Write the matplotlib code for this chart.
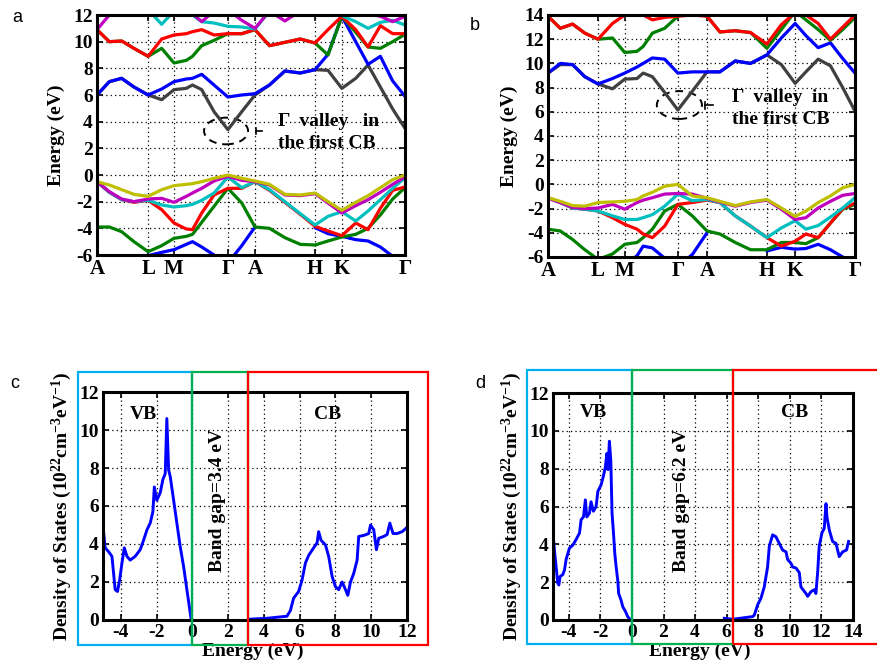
import numpy as np
import matplotlib
matplotlib.use('Agg')
import matplotlib.pyplot as plt
from matplotlib.patches import Ellipse, Rectangle
from matplotlib.transforms import blended_transform_factory

plt.rcParams['font.family'] = ['Liberation Serif', 'DejaVu Serif']
plt.rcParams['font.weight'] = 'bold'
plt.rcParams['axes.labelweight'] = 'bold'
plt.rcParams['mathtext.fontset'] = 'custom'
plt.rcParams['mathtext.rm'] = 'Liberation Serif:bold'
plt.rcParams['mathtext.it'] = 'Liberation Serif:italic:bold'
plt.rcParams['mathtext.bf'] = 'Liberation Serif:bold'
plt.rcParams['axes.unicode_minus'] = False

nan = np.nan

# ---------------- panel a: band structure (small gap) ----------------
a_sym_pos = [0.0, 0.166, 0.25, 0.425, 0.513, 0.708, 0.795, 1.0]
sym_labels = ['A', 'L', 'M', 'Γ', 'A', 'H', 'K', 'Γ']
a_k = [0, 0.04, 0.08, 0.12, 0.166, 0.21, 0.25, 0.29, 0.31, 0.34, 0.38, 0.425, 0.47,
       0.513, 0.56, 0.61, 0.66, 0.708, 0.75, 0.795, 0.84, 0.88, 0.92, 0.96, 1.0]
a_vb_blue = [-7.0, -7.0, -7.0, -6.5, -6.05, -5.8, -5.6, -5.2, -5.0, -5.4, -6.0, -6.6, -5.3,
             -3.9, nan, nan, nan, -3.95, -4.4, -4.6, -4.85, -4.95, -5.4, -6.1, -6.6]
a_vb_green = [-3.9, -3.9, -4.25, -5.0, -5.75, -5.3, -4.75, -4.6, -4.45, -3.55, -2.35, -1.0, -2.1,
              -3.9, -4.0, -4.7, -5.2, -5.25, -4.95, -4.65, -4.45, -4.0, -3.0, -1.8, -0.95]
a_vb_red = [-0.5, -1.3, -1.85, -2.05, -1.9, -2.6, -3.6, -4.05, -4.1, -2.85, -1.5, -1.0, -1.0,
            -0.5, -1.15, -2.05, -2.95, -3.85, -4.2, -4.55, -3.6, -4.1, -2.5, -1.15, -0.9]
a_vb_cyan = [-0.5, -1.3, -1.85, -2.0, -1.9, -2.25, -2.4, -2.3, -2.2, -1.9, -1.35, -0.15, -0.95,
             -0.5, -1.1, -2.0, -2.9, -3.75, -3.1, -2.75, -3.45, -2.7, -1.85, -1.0, -0.2]
a_vb_magenta = [-0.5, -1.25, -1.8, -2.0, -1.8, -1.75, -2.05, -1.6, -1.35, -1.0, -0.45, -0.1, -0.4,
                -0.5, -0.75, -1.5, -1.55, -1.4, -2.1, -2.85, -2.3, -1.85, -1.3, -0.7, -0.15]
a_vb_yellow = [-0.5, -0.75, -1.1, -1.45, -1.6, -1.1, -0.8, -0.7, -0.65, -0.5, -0.25, 0.0, -0.25,
               -0.45, -0.7, -1.45, -1.5, -1.35, -2.0, -2.65, -2.05, -1.55, -0.95, -0.35, 0.0]
a_cb_gray = [6.0, 7.0, 7.25, 6.6, 6.0, 5.65, 6.4, 6.5, 6.75, 6.4, 4.75, 3.4, 4.75,
             6.0, 6.75, 7.8, 7.65, 7.9, 7.85, 6.5, 7.25, 8.25, 6.6, 4.95, 3.5]
a_cb_blue = [6.0, 7.0, 7.25, 6.6, 6.0, 6.45, 7.0, 7.2, 7.25, 7.55, 6.75, 5.85, 6.0,
             6.1, 6.75, 7.8, 7.65, 7.9, 9.05, 11.9, 10.0, 8.3, 8.9, 7.05, 5.9]
a_cb_green = [10.9, 10.0, 10.05, 9.5, 8.9, 9.5, 8.4, 8.6, 8.9, 9.7, 10.1, 10.6, 10.6,
              10.9, 9.7, 9.95, 10.2, 9.9, 9.0, 11.9, 10.7, 9.6, 9.5, 10.0, 10.55]
a_cb_red = [10.9, 10.0, 10.05, 9.5, 8.9, 10.2, 10.5, 10.6, 10.75, 10.9, 10.5, 10.6, 10.6,
            10.9, 9.7, 9.95, 10.2, 9.9, 10.9, 11.9, 10.9, 9.6, 11.2, 10.6, 10.6]
a_cb_cyan = [12.5, 12.8, 12.8, 12.6, 12.4, 11.3, 12.3, 12.6, 12.0, 11.5, 11.4, 11.15, 11.1,
             10.95, 12.3, 12.6, 12.6, 12.6, 12.4, 11.95, 11.5, 11.0, 11.45, 11.6, 11.25]
a_cb_magenta = [10.9, 12.0, 12.8, 13.0, 13.0, 13.0, 12.6, 12.2, 12.1, 11.5, 12.3, 12.4, 11.6,
                11.0, 12.3, 11.55, 12.3, 12.8, 12.8, 12.5, 12.4, 12.1, 11.9, 11.5, 11.9]

# ---------------- panel b: band structure (large gap) ----------------
b_sym_pos = [0.0, 0.163, 0.25, 0.423, 0.518, 0.713, 0.805, 1.0]
b_k = [0, 0.04, 0.08, 0.12, 0.163, 0.21, 0.25, 0.29, 0.31, 0.34, 0.38, 0.423, 0.47,
       0.518, 0.56, 0.61, 0.66, 0.713, 0.76, 0.805, 0.84, 0.88, 0.92, 0.96, 1.0]
b_vb_blue = [-7, -7, -7, -7, -7, -7, -6.6, -5.9, -5.1, -5.25, -6.1, -6.8, -5.8,
             -4.0, nan, nan, nan, -5.5, -5.2, -5.35, -5.3, -4.95, -5.4, -6.0, -6.5]
b_vb_green = [-3.7, -3.85, -4.55, -5.4, -6.2, -5.75, -4.95, -4.8, -4.4, -3.7, -2.2, -1.65, -2.6,
              -3.85, -4.1, -4.8, -5.4, -5.4, -4.8, -4.8, -4.9, -4.4, -3.2, -2.05, -1.65]
b_vb_red = [-1.1, -1.5, -1.95, -2.05, -2.2, -2.75, -3.3, -3.7, -4.1, -4.4, -3.45, -1.65, -1.5,
            -1.3, -1.5, -2.6, -3.45, -4.4, -5.1, -4.7, -4.1, -4.4, -3.2, -2.0, -1.55]
b_vb_cyan = [-1.1, -1.5, -1.95, -2.05, -2.2, -2.6, -2.9, -2.9, -2.75, -2.5, -1.8, -0.8, -1.35,
             -1.25, -1.5, -2.6, -3.45, -4.4, -3.6, -3.0, -3.7, -3.4, -2.7, -1.95, -1.1]
b_vb_magenta = [-1.15, -1.5, -1.9, -2.0, -1.95, -1.65, -2.05, -1.5, -1.3, -1.1, -0.8, -0.75, -0.8,
                -1.15, -1.45, -1.8, -1.5, -1.3, -2.05, -2.9, -2.75, -1.95, -1.4, -0.9, -0.75]
b_vb_yellow = [-1.1, -1.4, -1.75, -1.8, -1.5, -1.45, -1.4, -1.25, -0.95, -0.65, -0.15, 0.0, -0.95,
               -1.1, -1.4, -1.75, -1.45, -1.25, -1.95, -2.65, -2.2, -1.5, -0.95, -0.28, 0.0]
b_cb_gray = [9.2, 9.9, 9.9, 8.9, 8.3, 7.9, 8.7, 8.75, 9.2, 8.9, 7.6, 6.15, 7.7,
             9.3, 9.3, 10.2, 10.0, 10.7, 9.9, 8.35, 9.3, 10.35, 9.8, 8.0, 6.05]
b_cb_blue = [9.2, 10.0, 9.9, 8.9, 8.3, 8.75, 9.2, 9.7, 10.0, 10.45, 10.35, 9.2, 9.3,
             9.3, 9.3, 10.2, 10.0, 10.7, 12.1, 13.3, 12.3, 11.3, 11.7, 10.4, 9.2]
b_cb_green = [13.9, 12.9, 13.25, 12.5, 12.0, 12.1, 10.9, 11.0, 11.4, 12.5, 12.9, 13.9, 14.2,
              13.9, 12.6, 12.7, 12.55, 11.25, 12.8, 14.3, 13.6, 12.8, 11.9, 12.8, 13.8]
b_cb_red = [13.9, 12.9, 13.25, 12.5, 12.0, 13.3, 14.0, 14.0, 14.0, 13.6, 13.8, 13.9, 14.0,
            13.9, 12.6, 12.7, 12.55, 11.6, 13.2, 14.2, 14.0, 13.3, 12.0, 13.0, 14.0]

# ---------------- panel c: DOS (gap 3.4 eV) ----------------
c_vb_e = [-4.97, -4.88, -4.69, -4.50, -4.32, -4.19, -4.07, -3.94, -3.81, -3.66, -3.48, -3.20,
          -2.92, -2.73, -2.54, -2.36, -2.21, -2.13, -1.99, -1.80, -1.65, -1.52, -1.43, -1.33,
          -1.24, -1.05, -0.87, -0.68, -0.49, -0.31, -0.08, 0.0]
c_vb_dos = [4.65, 3.8, 3.6, 3.35, 1.6, 1.5, 2.1, 3.0, 3.8, 3.35, 3.15, 3.35, 3.7, 4.2, 4.75, 5.1,
            5.7, 7.0, 6.3, 6.7, 7.4, 7.7, 10.6, 7.9, 7.55, 6.3, 5.1, 3.85, 2.8, 1.6, 0.1, 0.0]
c_cb_e = [3.15, 4.17, 5.29, 5.48, 5.66, 5.94, 6.13, 6.32, 6.50, 6.78, 6.97, 7.06, 7.19, 7.44,
          7.62, 7.81, 8.0, 8.18, 8.37, 8.56, 8.69, 8.84, 9.02, 9.21, 9.30, 9.58, 9.86, 9.96,
          10.14, 10.29, 10.42, 10.70, 10.89, 11.04, 11.22, 11.45, 11.73, 11.97]
c_cb_dos = [0.04, 0.09, 0.2, 0.5, 1.15, 1.5, 2.1, 3.0, 3.4, 3.8, 4.05, 4.65, 4.2, 3.95, 3.35,
            2.3, 1.75, 1.6, 2.0, 1.6, 1.3, 2.0, 2.45, 3.15, 4.4, 4.45, 4.55, 5.0, 4.75, 3.7,
            4.3, 4.4, 4.5, 5.1, 4.55, 4.55, 4.65, 4.85]

# ---------------- panel d: DOS (gap 6.2 eV) ----------------
d_vb_e = [-5.01, -4.91, -4.80, -4.70, -4.63, -4.55, -4.38, -4.27, -4.17, -3.96, -3.75, -3.54,
          -3.32, -3.22, -3.07, -2.95, -2.86, -2.69, -2.59, -2.44, -2.27, -2.16, -1.95, -1.81,
          -1.68, -1.59, -1.51, -1.43, -1.34, -1.26, -1.17, -1.09, -1.0, -0.90, -0.84, -0.69,
          -0.58, -0.41, -0.27, -0.12]
d_vb_dos = [4.67, 3.7, 2.8, 1.95, 1.85, 2.3, 2.4, 2.65, 3.2, 3.8, 3.95, 4.25, 4.6, 5.3, 5.45,
            6.35, 5.45, 5.65, 6.25, 5.75, 6.0, 6.8, 7.15, 7.6, 8.1, 8.8, 7.95, 9.45, 8.45, 5.65,
            4.6, 3.55, 2.8, 2.1, 1.4, 1.05, 0.7, 0.45, 0.18, 0.03]
d_cb_e = [5.85, 6.38, 7.65, 7.75, 7.96, 8.17, 8.38, 8.59, 8.70, 8.91, 9.12, 9.33, 9.54, 9.76,
          9.86, 10.07, 10.18, 10.39, 10.60, 10.70, 11.02, 11.13, 11.34, 11.55, 11.65, 11.76,
          11.86, 12.03, 12.18, 12.29, 12.35, 12.50, 12.71, 12.92, 13.13, 13.34, 13.59, 13.72]
d_cb_dos = [0.09, 0.04, 0.18, 0.26, 0.8, 1.15, 1.75, 2.8, 3.9, 4.5, 4.4, 4.05, 3.7, 3.6, 3.2,
            3.0, 2.8, 2.75, 2.5, 1.75, 1.4, 1.25, 1.5, 1.6, 1.4, 2.5, 3.9, 4.6, 4.85, 6.15,
            5.45, 4.75, 4.15, 4.05, 3.35, 3.6, 3.7, 4.15]

band_gap_labels = ['Band gap=3.4 eV', 'Band gap=6.2 eV']

# MATLAB default colour order
C_B, C_G, C_R = '#0000ff', '#008000', '#ff0000'
C_C, C_M, C_Y, C_K = '#00bfbf', '#bf00bf', '#bfbf00', '#404040'

W, H = 878, 669
fig = plt.figure(figsize=(W / 100, H / 100), dpi=100)


def px_axes(x0, y0, x1, y1):
    return fig.add_axes([x0 / W, 1 - y1 / H, (x1 - x0) / W, (y1 - y0) / H])


def style(ax, xsize=14):
    for s in ax.spines.values():
        s.set_linewidth(2.2)
    ax.tick_params(direction='in', length=4, width=1.2, top=True, right=True,
                   labelsize=14, pad=3)
    ax.tick_params(axis='x', labelsize=xsize)
    for lbl in ax.get_xticklabels() + ax.get_yticklabels():
        lbl.set_fontweight('bold')
    ax.grid(True, color='k', linestyle=(0, (1, 2.5)), linewidth=0.9)


def band_panel(ax, k, sym_pos, vb, cb, ylim):
    for E, c in zip(vb, [C_B, C_G, C_R, C_C, C_M, C_Y]):
        ax.plot(k, E, color=c, lw=2.3, solid_capstyle='round', solid_joinstyle='round')
    for E, c in zip(cb, [C_K, C_B, C_G, C_R, C_C, C_M]):
        ax.plot(k, E, color=c, lw=2.3, solid_capstyle='round', solid_joinstyle='round')
    ax.set_xlim(0, 1)
    ax.set_ylim(*ylim)
    ax.set_yticks(np.arange(ylim[0], ylim[1] + 1, 2))
    ax.set_xticks(sym_pos)
    ax.set_xticklabels(sym_labels)
    style(ax, xsize=15)
    ax.set_ylabel('Energy (eV)', fontsize=14, fontweight='bold')


# panel a
axa = px_axes(97, 15, 405, 255)
band_panel(axa, a_k, a_sym_pos,
           [a_vb_blue, a_vb_green, a_vb_red, a_vb_cyan, a_vb_magenta, a_vb_yellow],
           [a_cb_gray, a_cb_blue, a_cb_green, a_cb_red, a_cb_cyan, a_cb_magenta], (-6, 12))
axa.yaxis.set_label_coords(-0.105, 0.5)
axa.add_patch(Ellipse((0.419, 3.3), 0.143, 2.0, fill=False, ec='k', lw=1.4,
                      linestyle=(0, (4, 3))))
axa.plot([0.516, 0.516], [3.05, 3.55], color='k', lw=1.2)
axa.plot([0.516, 0.535], [3.3, 3.3], color='k', lw=1.2)
axa.text(0.588, 3.98, 'Γ  valley   in', fontsize=14, fontweight='bold', ha='left', va='center')
axa.text(0.588, 2.33, 'the first CB', fontsize=14, fontweight='bold', ha='left', va='center')

# panel b
axb = px_axes(548, 15, 855, 257)
band_panel(axb, b_k, b_sym_pos,
           [b_vb_blue, b_vb_green, b_vb_red, b_vb_cyan, b_vb_magenta, b_vb_yellow],
           [b_cb_gray, b_cb_blue, b_cb_green, b_cb_red], (-6, 14))
axb.yaxis.set_label_coords(-0.099, 0.5)
axb.add_patch(Ellipse((0.428, 6.56), 0.147, 2.3, fill=False, ec='k', lw=1.4,
                      linestyle=(0, (4, 3))))
axb.plot([0.511, 0.511], [6.25, 6.85], color='k', lw=1.2)
axb.plot([0.511, 0.537], [6.56, 6.56], color='k', lw=1.2)
axb.text(0.599, 7.22, 'Γ  valley  in', fontsize=14, fontweight='bold', ha='left', va='center')
axb.text(0.599, 5.4, 'the first CB', fontsize=14, fontweight='bold', ha='left', va='center')


def dos_panel(ax, vb_e, vb_d, cb_e, cb_d, xlim, xticks):
    ax.plot(vb_e, vb_d, color=C_B, lw=2.1)
    ax.plot(cb_e, cb_d, color=C_B, lw=2.1)
    ax.set_xlim(*xlim)
    ax.set_ylim(0, 12)
    ax.set_xticks(xticks)
    ax.set_yticks(np.arange(0, 13, 2))
    style(ax)
    ax.set_ylabel('Density of States (10$^{22}$cm$^{-3}$eV$^{-1}$)', fontsize=14,
                  fontweight='bold')
    ax.set_xlabel('Energy (eV)', fontsize=14, fontweight='bold')


def boxes(ax, edges, y0, y1):
    tr = blended_transform_factory(ax.transData, fig.transFigure)
    for (e0, e1), col in zip(edges, ['#00b0f0', '#00b050', '#ff0000']):
        fig.patches.append(Rectangle((e0, 1 - y1 / H), e1 - e0, (y1 - y0) / H, fill=False,
                                     ec=col, lw=1.6, transform=tr, clip_on=False))


# panel c
axc = px_axes(103, 392, 407, 620)
dos_panel(axc, c_vb_e, c_vb_dos, c_cb_e, c_cb_dos, (-5, 12), np.arange(-4, 13, 2))
axc.yaxis.set_label_coords(-0.095, 0.5)
axc.xaxis.set_label_coords(0.493, -0.10)
axc.text(-2.76, 10.8, 'VB', fontsize=14, fontweight='bold', ha='center', va='center')
axc.text(7.58, 10.8, 'CB', fontsize=14, fontweight='bold', ha='center', va='center')
axc.text(1.38, 6.3, band_gap_labels[0], fontsize=14, fontweight='bold', ha='center',
         va='center', rotation=90)
boxes(axc, [(-6.4, 0.0), (0.0, 3.12), (3.12, 13.2)], 372, 645)

# panel d
axd = px_axes(553, 393, 853, 620)
dos_panel(axd, d_vb_e, d_vb_dos, d_cb_e, d_cb_dos, (-5, 14), np.arange(-4, 15, 2))
axd.yaxis.set_label_coords(-0.096, 0.5)
axd.xaxis.set_label_coords(0.49, -0.10)
axd.text(-2.47, 10.95, 'VB', fontsize=14, fontweight='bold', ha='center', va='center')
axd.text(10.33, 10.95, 'CB', fontsize=14, fontweight='bold', ha='center', va='center')
axd.text(3.17, 6.35, band_gap_labels[1], fontsize=14, fontweight='bold', ha='center',
         va='center', rotation=90)
boxes(axd, [(-6.65, 0.0), (0.0, 6.4), (6.4, 17.0)], 370, 644)

for lab, (x, y) in zip('abcd', [(17, 18), (475, 25), (15, 383), (480, 383)]):
    fig.text(x / W, 1 - y / H, lab, fontsize=13, family='Liberation Sans',
             weight='normal', ha='center', va='center')

fig.savefig('out.png', dpi=100)
